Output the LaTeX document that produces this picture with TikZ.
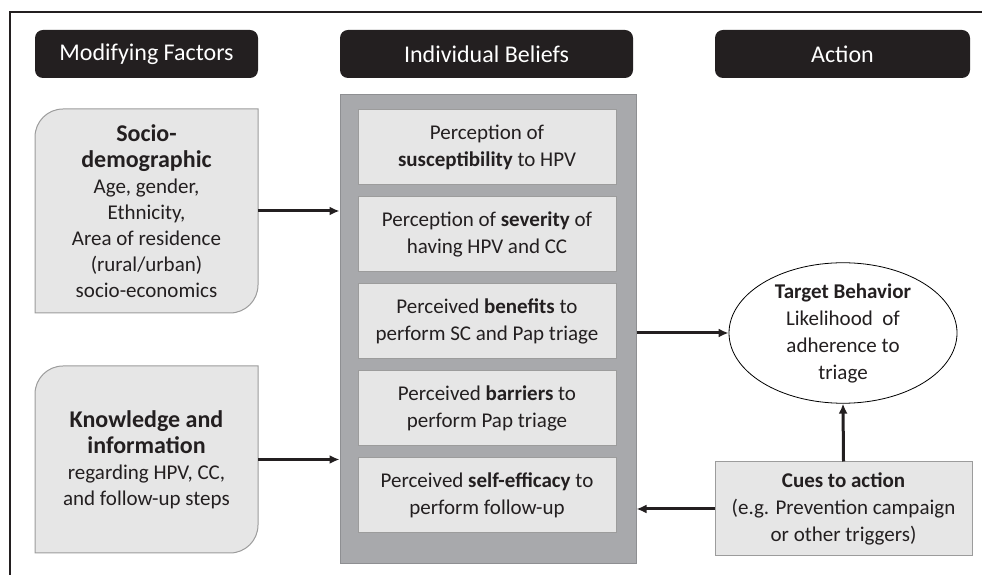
\documentclass[tikz,border=0pt]{standalone}
\usepackage{fontspec}
\setmainfont{Carlito}
\usetikzlibrary{shapes.geometric,arrows.meta,calc}
\definecolor{hdr}{HTML}{231F20}
\definecolor{lightbox}{HTML}{E6E6E6}
\definecolor{boxline}{HTML}{9C9C9C}
\definecolor{greybig}{HTML}{A8A9AC}
\definecolor{greyline}{HTML}{8E8F92}
\definecolor{txt}{HTML}{231F20}
\newcommand\bigf{\fontsize{24}{30}\selectfont\bfseries}
\newcommand\regf{\fontsize{21}{26}\selectfont\mdseries}
\tikzset{
  header/.style={rectangle, rounded corners=8pt, fill=hdr, text=white, minimum height=48pt, inner sep=0pt, font=\fontsize{24}{28}\selectfont},
  belief/.style={rectangle, fill=lightbox, draw=boxline, line width=1pt, minimum width=258pt, minimum height=75pt, inner sep=0pt, align=center, text=txt, font=\fontsize{21}{27}\selectfont},
  modbox/.style={fill=lightbox, draw=boxline, line width=1pt},
  modtext/.style={rectangle, minimum width=223pt, inner sep=0pt, align=center, text=txt, font=\fontsize{21}{26}\selectfont},
  conn/.style={-{Latex[length=10pt,width=9pt]}, line width=3pt, draw=hdr}
}
\begin{document}
\begin{tikzpicture}[x=1pt,y=1pt]
\useasboundingbox (0,0) rectangle (982,575);
% frame
\draw[line width=1.5pt, hdr] (10,0) -- (10,563) -- (982,563);
% headers
\node[header, minimum width=223pt] (hmf) at (146.5,521) {Modifying Factors};
\node[header, minimum width=293pt] (hib) at (486.5,521) {Individual Beliefs};
\node[header, minimum width=255pt] (hac) at (842.5,521) {Action};
% modifying factor boxes
\path[modbox] (35,262) -- (35,438) arc[start angle=180,end angle=90,radius=28] -- (258,466) -- (258,290) arc[start angle=0,end angle=-90,radius=28] -- cycle;
\node[modtext, minimum height=204pt] (socio) at (146.5,364) {\bigf Socio-\\\bigf demographic\\\regf Age, gender,\\Ethnicity,\\Area of residence\\(rural/urban)\\socio-economics};
\path[modbox] (35,22) -- (35,181) arc[start angle=180,end angle=90,radius=28] -- (258,209) -- (258,50) arc[start angle=0,end angle=-90,radius=28] -- cycle;
\node[modtext, minimum height=187pt] (know) at (146.5,115.5) {\bigf Knowledge and\\\bigf information\\\regf regarding HPV, CC,\\and follow-up steps};
% big grey box
\node[rectangle, fill=greybig, draw=greyline, line width=1pt, minimum width=296pt, minimum height=469pt, inner sep=0pt] (grey) at (488,245.5) {};
\node[belief] (b1) at (487,427.5) {Perception of\\\textbf{susceptibility} to HPV};
\node[belief] (b2) at (487,340.5) {Perception of \textbf{severity} of\\having HPV and CC};
\node[belief] (b3) at (487,253.5) {Perceived \textbf{benefits} to\\perform SC and Pap triage};
\node[belief] (b4) at (487,166.5) {Perceived \textbf{barriers} to\\perform Pap triage};
\node[belief] (b5) at (487,79.5) {Perceived \textbf{self-efficacy} to\\perform follow-up};
% action side
\node[ellipse, draw=black, line width=0.8pt, fill=white, minimum width=228pt, minimum height=138pt, inner sep=0pt, align=center, text=txt, font=\fontsize{21}{27}\selectfont] (ell) at (843,242) {\textbf{Target Behavior}\\Likelihood\ \ of\\adherence to\\triage};
\node[rectangle, fill=lightbox, draw=boxline, line width=1pt, minimum width=257pt, minimum height=94pt, inner sep=0pt, align=center, text=txt, font=\fontsize{21}{27}\selectfont] (cues) at (843.5,66) {\textbf{Cues to action}\\(e.g. Prevention campaign\\or other triggers)};
% connectors
\draw[conn] (socio.east) -- (socio.east -| grey.west);
\draw[conn] (know.east) -- (know.east -| grey.west);
\draw[conn] (ell.west -| grey.east) -- (ell.west);
\draw[conn] (cues.north) -- (ell.south);
\draw[conn] (cues.west) -- (cues.west -| grey.east);
\end{tikzpicture}
\end{document}
